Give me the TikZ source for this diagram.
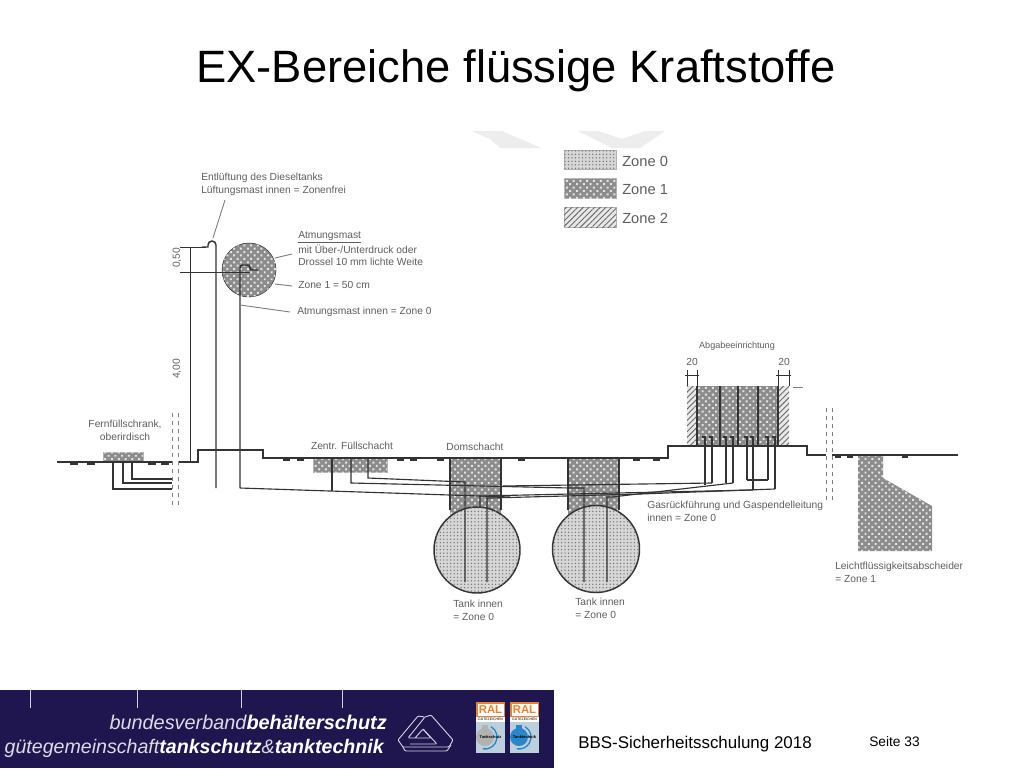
\documentclass[tikz,border=0pt]{standalone}
\usepackage{fontspec}
\setmainfont{Liberation Sans}
\usetikzlibrary{patterns.meta}
\definecolor{bandblue}{HTML}{1F1650}
\definecolor{inkgray}{HTML}{333333}
\definecolor{labelgray}{HTML}{5E5E5E}
\definecolor{ralorange}{HTML}{E8822E}
\definecolor{ralblue}{HTML}{2A86C8}
\definecolor{ralpale}{HTML}{BCCFDC}
\tikzset{
  zonenull/.style={fill=gray!32,postaction={pattern={Dots[distance=2.6pt,radius=0.55pt]},pattern color=gray!90!black}},
  zoneeins/.style={fill=gray!90,postaction={pattern={Dots[distance=3.6pt,radius=1.05pt,angle=45]},pattern color=gray!22}},
  zonezwei/.style={fill=gray!18,postaction={pattern={Lines[angle=45,distance=3pt,line width=0.7pt]},pattern color=gray!85!black}},
  pipe/.style={draw=inkgray,line width=1.1pt},
  thin pipe/.style={draw=inkgray,line width=0.85pt},
  dimline/.style={draw=inkgray,line width=0.55pt},
  label/.style={text=labelgray,font=\fontsize{7.7}{8}\selectfont,inner sep=0pt},
  zonelabel/.style={text=labelgray,font=\fontsize{11}{14}\selectfont,inner sep=0pt,anchor=west},
  leader/.style={gray,line width=0.7pt},
  logoline/.style={white!80!bandblue,line width=0.7pt,line join=round,rounded corners=0.8pt},
}
\begin{document}
\begin{tikzpicture}[x=0.75pt,y=-0.75pt]
\useasboundingbox (0,0) rectangle (1024,768);
\fill[white] (0,0) rectangle (1024,768);

\node[inner sep=0pt,font=\fontsize{34}{36}\selectfont] (title) at (516,71) {EX-Bereiche flüssige Kraftstoffe};

% watermark
\fill[gray!14] (472,131) -- (502,131) -- (541,148) -- (500,148) -- (490,139) -- cycle;
\fill[gray!14] (578,131) -- (598,131) -- (622,139) -- (645,131) -- (665,131) -- (640,148) -- (612,148) -- cycle;

% legend
\draw[gray!60,zonenull] (564,150) rectangle (616,169);
\draw[gray!60,zoneeins] (564,178) rectangle (616,198);
\draw[gray!60,zonezwei] (564,207) rectangle (616,227);
\node[zonelabel] (zone0) at (622,161) {Zone 0};
\node[zonelabel] (zone1) at (622,190) {Zone 1};
\node[zonelabel] (zone2) at (622,218) {Zone 2};

% zones
\draw[gray!60,zoneeins] (103,452) rectangle (143,462);
\draw[gray!60,zoneeins] (313,458) rectangle (387,472);
\draw[zoneeins,draw=none] (450,458) rectangle (501,515);
\draw[zoneeins,draw=none] (568,458) rectangle (619,515);
\draw[inkgray,zoneeins] (249,270) circle (27);
\draw[draw=none,zonezwei] (687,386) rectangle (697,446);
\draw[draw=none,zonezwei] (778,386) rectangle (789,446);
\draw[draw=none,zoneeins] (697,386) rectangle (778,446);
\draw[draw=none,zoneeins] (858,455) -- (883,455) -- (883,478) -- (932,506) -- (932,551) -- (858,551) -- cycle;
\draw[pipe,zonenull] (477,550) circle (43);
\draw[pipe,zonenull] (596,549) circle (43.5);
\draw[thin pipe] (450,458) -- (450,510) (501,458) -- (501,510);
\draw[thin pipe] (568,458) -- (568,510) (619,458) -- (619,510);

% ground
\draw[pipe] (57,462) -- (172,462);
\draw[pipe] (178,462) -- (198,462) -- (198,450) -- (263,450) -- (263,458) -- (668,458) -- (668,446) -- (807,446) -- (807,455) -- (826,455);
\draw[pipe] (832,455) -- (958,455);
\foreach \x in {70,87,148,161} \draw[inkgray,line width=1.6pt] (\x,464) -- ++(8,0);
\foreach \x in {283,297,397,410,437,518,633,653} \draw[inkgray,line width=1.6pt] (\x,460) -- ++(7,0);
\foreach \x in {835,847,902} \draw[inkgray,line width=1.6pt] (\x,457) -- ++(6,0);
\draw[gray,dashed,line width=0.7pt] (172,413) -- (172,508) (178,413) -- (178,508);
\draw[gray,dashed,line width=0.7pt] (826,408) -- (826,502) (832,408) -- (832,502);

% masts
\draw[pipe] (216,488) -- (216,245) arc (0:-180:4) -- (208,247) -- (202,247);
\draw[pipe,rounded corners=2pt] (240,488) -- (240,265) -- (250,265) -- (250,270) -- (258,270);
\draw[dimline] (180,247) -- (206,247);
\draw[dimline] (180,272) -- (250,272);
\draw[dimline] (190,247) -- (190,462);
\node[label,rotate=90] (dimtop) at (177,258) {0,50};
\node[label,rotate=90] (dimmast) at (177,369) {4,00};

% pipes left
\draw[pipe] (113,462) -- (113,489) -- (172,489);
\draw[pipe] (123,462) -- (123,483) -- (172,483);
\draw[pipe] (132,462) -- (132,479) -- (172,479);

% pipes to the tanks
\draw[thin pipe] (240,488) -- (510,497);
\draw[thin pipe] (332,458) -- (332,490.5);
\draw[thin pipe] (351,458) -- (351,483) -- (570,488) -- (584,488) -- (584,582);
\draw[thin pipe] (368,458) -- (368,478) -- (465,482) -- (465,582);
\draw[thin pipe] (712,483) -- (503,486);
\draw[thin pipe] (733,483) -- (612,497) -- (607,497) -- (607,582);
\draw[thin pipe] (775,489) -- (640,494) -- (490,498) -- (487,498) -- (487,582);
\draw[thin pipe] (753,490) -- (480,496) -- (480,507);
\draw[thin pipe] (768,480) -- (747,480);

% dispenser
\foreach \x/\e in {705/485,712/483,726/483,733/483,747/480,753/490,768/480,775/489}
  \draw[pipe] (\x,\e) -- (\x,437) -- ++(-3,0);
\foreach \x in {697,720,738,758,778} \draw[pipe] (\x,386) -- (\x,446);
\draw[dimline] (687,370) -- (687,386) (697,370) -- (697,386) (778,370) -- (778,386) (789,370) -- (789,386);
\draw[dimline] (685,375) -- (699,375) (776,375) -- (791,375);
\draw[gray,line width=0.7pt] (793,387) -- (803,387);
\node[label] (width1) at (692,362) {20};
\node[label] (width2) at (784,362) {20};

% labels
\node[label,anchor=west,align=left] (vent) at (201,184.5) {Entlüftung des Dieseltanks\\[1.8pt]Lüftungsmast innen = Zonenfrei};
\node[label,anchor=west] (breath) at (298,237) {\underline{Atmungsmast}};
\node[label,anchor=west] (breathb) at (298,249) {mit Über-/Unterdruck oder};
\node[label,anchor=west] (breathc) at (298,262) {Drossel 10 mm lichte Weite};
\node[label,anchor=west] (zoneone) at (298,285) {Zone 1 = 50 cm};
\node[label,anchor=west] (breathin) at (297,312) {Atmungsmast innen = Zone 0};
\node[label,align=center] (remote) at (125,430.5) {Fernfüllschrank,\\[1.8pt]oberirdisch};
\node[label] (central) at (352,446) {Zentr. Füllschacht};
\node[label] (dome) at (475,447) {Domschacht};
\node[label,anchor=west,align=left] (tanka) at (453,610) {Tank innen\\[1.8pt]= Zone 0};
\node[label,anchor=west,align=left] (tankb) at (575,608) {Tank innen\\[1.8pt]= Zone 0};
\node[label,anchor=west,align=left] (gas) at (647,511) {Gasrückführung und Gaspendelleitung\\[1.8pt]innen = Zone 0};
\node[label,anchor=west,align=left] (oil) at (835,572) {Leichtflüssigkeitsabscheider\\[1.8pt]= Zone 1};
\node[label,font=\fontsize{6.8}{8}\selectfont] (pump) at (737,346) {Abgabeeinrichtung};

\coordinate (venttip) at (213,238);
\coordinate (breathtip) at (275,258);
\coordinate (zonetip) at (275,284);
\coordinate (masttip) at (240,305);
\draw[leader] (225,200) -- (venttip);
\draw[leader] (breathb.west) ++(-6,5) -- (breathtip);
\draw[leader] (zoneone.west) ++(-6,1) -- (zonetip);
\draw[leader] (breathin.west) ++(-7,0) -- (masttip);

% footer
\fill[bandblue] (0,690) rectangle (554,768);
\foreach \x in {30,137,241,342} \draw[white!80!bandblue,line width=0.6pt] (\x,690) -- (\x,708);
\node[anchor=east,inner sep=0pt,text=white,font=\fontsize{14.9}{18}\selectfont\itshape] (verband) at (387,722) {\textcolor{white!85!bandblue}{bundesverband}\textbf{behälterschutz}};
\node[anchor=east,inner sep=0pt,text=white,font=\fontsize{14.7}{18}\selectfont\itshape] (guete) at (384,748) {\textcolor{white!85!bandblue}{gütegemeinschaft}\textbf{tankschutz}\textcolor{white!85!bandblue}{\&}\textbf{tanktechnik}};

% triangle logo
\draw[logoline] (403,747) -- (398,740) -- (418,716) -- (425,717) -- (408,738) -- (431,738) -- (423,729) -- (415,738);
\draw[logoline] (425,717) -- (431,715) -- (453,740) -- (449,747) -- (403,747);
\draw[logoline] (423,729) -- (437,744) -- (410,744);
\draw[logoline] (403,747) -- (405,751) -- (447,751) -- (451,745);

% RAL badges
\foreach \x/\c/\n in {476/gray!60/a,510/ralblue/b} {
  \fill[ralpale] (\x,702) rectangle ++(29,51);
  \fill[ralorange] (\x,702) rectangle ++(29,15);
  \fill[white] (\x+1.5,703.5) rectangle ++(26,12);
  \fill[white] (\x,717) rectangle ++(29,5);
  \fill[\c] (\x+6,725) rectangle ++(6,5);
  \fill[\c] (\x+9,737) circle (9);
  \draw[ralblue,line width=1pt] (\x+15,726.6) arc (-60:100:12);
  \node[inner sep=0pt,text=ralorange,font=\bfseries\fontsize{8.5}{9}\selectfont] (ral\n) at (\x+14.5,709.5) {RAL};
  \node[inner sep=0pt,font=\fontsize{2.6}{3}\selectfont] (sign\n) at (\x+14.5,719.5) {GÜTEZEICHEN};
}
\node[inner sep=0pt,font=\bfseries\fontsize{3}{4}\selectfont] (plaka) at (490.5,737) {Tankschutz};
\node[inner sep=0pt,font=\bfseries\fontsize{3}{4}\selectfont] (plakb) at (524.5,737) {Tanktechnik};

\node[anchor=west,inner sep=0pt,font=\fontsize{12.7}{14}\selectfont] (course) at (578,744) {BBS-Sicherheitsschulung 2018};
\node[anchor=west,inner sep=0pt,font=\fontsize{10.3}{11}\selectfont] (page) at (869,742) {Seite 33};
\end{tikzpicture}
\end{document}
